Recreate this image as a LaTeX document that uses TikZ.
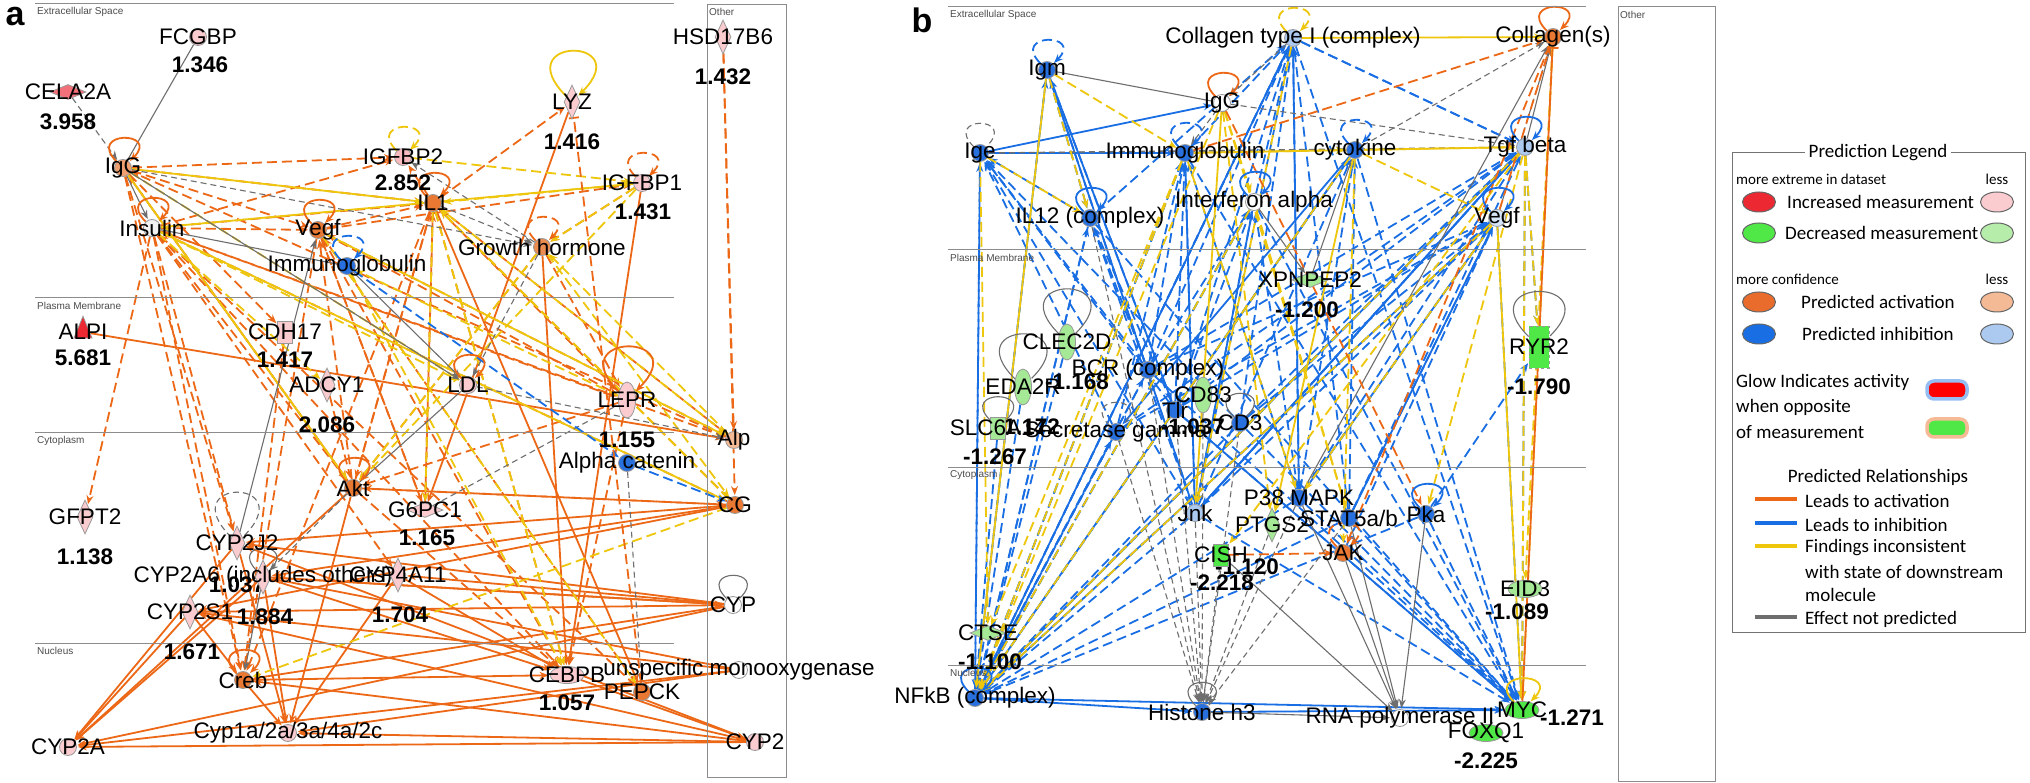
\documentclass[tikz,border=0pt]{standalone}
\usepackage{fontspec}
\setmainfont{Liberation Sans}
\newfontfamily\legendfont{Carlito}
\usetikzlibrary{arrows.meta,shapes.geometric,backgrounds}

\definecolor{actcol}{RGB}{236,104,22}
\definecolor{inhcol}{RGB}{25,110,228}
\definecolor{inccol}{RGB}{238,198,12}
\definecolor{npcol}{RGB}{110,110,110}
\definecolor{upweak}{RGB}{250,204,208}
\definecolor{upmid}{RGB}{242,112,122}
\definecolor{upstrong}{RGB}{236,40,50}
\definecolor{downweak}{RGB}{165,232,150}
\definecolor{downstrong}{RGB}{80,232,70}
\definecolor{actnode}{RGB}{232,120,50}
\definecolor{actweak}{RGB}{244,186,150}
\definecolor{inhnode}{RGB}{40,112,222}
\definecolor{inhweak}{RGB}{172,202,240}
\newcommand{\lblsize}{\fontsize{22.5}{24}\selectfont}
\newcommand{\legsize}{\legendfont\fontsize{19}{21}\selectfont}
\newcommand{\legsmall}{\legendfont\fontsize{15}{17}\selectfont}

\tikzset{
  lbl/.style={font=\lblsize,inner sep=0pt},
  val/.style={font=\lblsize\bfseries,inner sep=0pt},
  region/.style={font=\fontsize{10}{12}\selectfont,text=black!70,anchor=west,inner sep=0pt},
  tag/.style={font=\bfseries\fontsize{34}{36}\selectfont,inner sep=0pt},
  rule/.style={draw=black!45,line width=1pt},
  gnode/.style={draw=black!40,line width=0.8pt,inner sep=0pt,label={[lbl]center:#1}},
  gsym/.style={gnode=#1,circle,minimum size=17pt},
  genz/.style={gnode=#1,diamond,minimum width=16pt,minimum height=34pt},
  gpep/.style={gnode=#1,diamond,minimum width=36pt,minimum height=15pt},
  gtri/.style={gnode=#1,isosceles triangle,shape border rotate=90,minimum width=18pt,minimum height=17pt},
  grec/.style={gnode=#1,rectangle,minimum width=15pt,minimum height=22pt},
  gvel/.style={gnode=#1,ellipse,minimum width=17pt,minimum height=36pt},
  ghel/.style={gnode=#1,ellipse,minimum width=34pt,minimum height=17pt},
  act/.style={draw=actcol,line width=1.8pt,->},
  actd/.style={act,dash pattern=on 10pt off 5pt},
  inh/.style={draw=inhcol,line width=1.8pt,->},
  inhd/.style={inh,dash pattern=on 10pt off 5pt},
  inc/.style={draw=inccol,line width=1.8pt,->},
  incd/.style={inc,dash pattern=on 10pt off 5pt},
  np/.style={draw=npcol,line width=1.1pt,->},
  npd/.style={np,dash pattern=on 6pt off 4pt},
  npl/.style={draw=npcol,line width=1.1pt},
  bigloop/.style={every loop/.style={out=135,in=45,min distance=85pt,looseness=1}},
  leg/.style={font=\legsize,inner sep=0pt},
  legs/.style={font=\legsmall,inner sep=0pt},
  lell/.style={ellipse,draw=black!60,line width=1pt,minimum width=33pt,minimum height=20pt},
  lglow/.style={rectangle,rounded corners=7pt,line width=3.5pt,minimum width=40pt,minimum height=18pt},
  lline/.style={rectangle,inner sep=0pt,minimum width=42pt,minimum height=3.5pt}
}

\begin{document}
\begin{tikzpicture}[x=1pt,y=-1pt,>={Stealth[length=9pt,width=7pt]},shorten >=1pt]
  \tikzset{every loop/.style={out=135,in=45,min distance=44pt,looseness=1}}
  \useasboundingbox (0,0) rectangle (2030,783);

  % ---------- panel a ----------
  \node[tag] (tag-a) at (15,17) {a};
  \draw[rule] (35,4) -- (675,4);
  \draw[rule] (35,298) -- (675,298);
  \draw[rule] (35,433) -- (675,433);
  \draw[rule] (35,643) -- (675,643);
  \draw[rule] (707,5) rectangle (786,777);
  \node[region] (ra1) at (37,12) {Extracellular Space};
  \node[region] (ra2) at (37,306) {Plasma Membrane};
  \node[region] (ra3) at (37,441) {Cytoplasm};
  \node[region] (ra4) at (37,651) {Nucleus};
  \node[region] (ra5) at (709,12) {Other};

  \node[gpep=CELA2A,fill=upmid] (cela) at (68,92) {};
  \node[val] (cela-v) at (68,122) {3.958};
  \node[gsym=FCGBP,fill=upweak] (fcgbp) at (198,37) {};
  \node[val] (fcgbp-v) at (200,65) {1.346};
  \node[gsym=IgG,fill=actnode!70] (igg) at (123,168) {};
  \node[gsym=Insulin,fill=black!5] (ins) at (152,228) {};
  \node[gsym=Vegf,fill=actnode] (vegf) at (318,230) {};
  \node[gsym=Immunoglobulin,fill=inhnode] (imm) at (347,266) {};
  \node[gsym=IL1,fill=actnode] (il) at (433,203) {};
  \node[gsym=IGFBP2,fill=upweak!80!upmid] (igfbpb) at (403,157) {};
  \node[val] (igfbpb-v) at (403,183) {2.852};
  \node[genz=LYZ,fill=upweak] (lyz) at (572,102) {};
  \node[val] (lyz-v) at (572,142) {1.416};
  \node[gsym=IGFBP1,fill=upweak] (igfbpa) at (642,183) {};
  \node[val] (igfbpa-v) at (643,212) {1.431};
  \node[gsym=Growth hormone,fill=actnode!85] (gh) at (542,247) {};
  \node[genz=HSD17B6,fill=upweak] (hsd) at (723,37) {};
  \node[val] (hsd-v) at (723,77) {1.432};
  \node[gtri=ALPI,fill=upstrong] (alpi) at (83,332) {};
  \node[val] (alpi-v) at (83,358) {5.681};
  \node[grec=CDH17,fill=upweak] (cdh) at (285,332) {};
  \node[val] (cdh-v) at (285,360) {1.417};
  \node[genz=ADCY1,fill=upweak] (adcy) at (327,385) {};
  \node[val] (adcy-v) at (327,425) {2.086};
  \node[gsym=LDL,fill=upweak] (ldl) at (468,385) {};
  \node[gvel=LEPR,fill=upweak] (lepr) at (627,400) {};
  \node[val] (lepr-v) at (627,440) {1.155};
  \node[gsym=Alpha catenin,fill=inhnode] (actn) at (627,463) {};
  \node[gsym=Alp,fill=actweak] (alp) at (734,440) {};
  \node[gsym=CG,fill=actnode] (cg) at (735,505) {};
  \node[genz=GFPT2,fill=upweak] (gfpt) at (85,517) {};
  \node[val] (gfpt-v) at (85,557) {1.138};
  \node[gsym=Akt,fill=actnode] (akt) at (353,488) {};
  \node[gpep=G6PC1,fill=upweak] (gpc) at (425,510) {};
  \node[val] (gpc-v) at (427,538) {1.165};
  \node[genz=CYP2J2,fill=upweak] (cypj) at (237,543) {};
  \node[val] (cypj-v) at (237,585) {1.037};
  \node[genz={CYP2A6 (includes others)},fill=upweak] (cypa6) at (263,577) {};
  \node[val] (cypa6-v) at (265,617) {1.884};
  \node[genz=CYP2S1,fill=upweak] (cyps) at (190,612) {};
  \node[val] (cyps-v) at (192,652) {1.671};
  \node[genz=CYP4A11,fill=upweak] (cyp4) at (398,575) {};
  \node[val] (cyp4-v) at (400,615) {1.704};
  \node[gsym=CYP,fill=white] (cyp) at (733,605) {};
  \node[gsym=Creb,fill=actnode] (creb) at (243,680) {};
  \node[ghel=CEBPB,fill=upweak] (cebpb) at (567,675) {};
  \node[val] (cebpb-v) at (567,703) {1.057};
  \node[gsym=unspecific monooxygenase,fill=white] (umo) at (739,670) {};
  \node[gsym=PEPCK,fill=actnode] (pepck) at (642,692) {};
  \node[gsym=CYP2,fill=upweak] (cypt) at (755,742) {};
  \node[gsym=CYP2A,fill=upweak] (cypta) at (68,747) {};
  \node[gsym=Cyp1a/2a/3a/4a/2c,fill=upweak] (cypm) at (288,733) {};

  % ---------- panel b ----------
  \node[tag] (tag-b) at (922,20) {b};
  \draw[rule] (948,7) -- (1587,7);
  \draw[rule] (948,250) -- (1587,250);
  \draw[rule] (948,467) -- (1587,467);
  \draw[rule] (948,665) -- (1587,665);
  \draw[rule] (1618,7) rectangle (1715,781);
  \node[region] (rb1) at (950,15) {Extracellular Space};
  \node[region] (rb2) at (950,258) {Plasma Membrane};
  \node[region] (rb3) at (950,475) {Cytoplasm};
  \node[region] (rb4) at (950,673) {Nucleus};
  \node[region] (rb5) at (1620,15) {Other};

  \node[gsym={Collagen type I (complex)},fill=inhweak] (colla) at (1293,38) {};
  \node[gsym=Collagen(s),fill=actnode] (colls) at (1553,37) {};
  \node[gsym=Igm,fill=inhnode] (igm) at (1047,70) {};
  \node[gsym=IgG,fill=white] (iggb) at (1222,103) {};
  \node[gsym=Ige,fill=inhnode] (ige) at (980,153) {};
  \node[gsym=Immunoglobulin,fill=inhnode] (immb) at (1185,153) {};
  \node[gsym=cytokine,fill=inhnode] (cyto) at (1355,150) {};
  \node[gsym=Tgf beta,fill=inhweak] (tgf) at (1525,147) {};
  \node[gsym={IL12 (complex)},fill=inhnode] (ilt) at (1090,218) {};
  \node[gsym=Interferon alpha,fill=white] (ifn) at (1254,202) {};
  \node[gsym=Vegf,fill=inhweak!50] (vegfb) at (1497,218) {};
  \node[gpep=XPNPEP2,fill=downweak] (xpn) at (1310,280) {};
  \node[val] (xpn-v) at (1307,310) {-1.200};
  \node[gvel=CLEC2D,fill=downweak] (clec) at (1067,342) {};
  \node[val] (clec-v) at (1077,382) {-1.168};
  \node[gvel=EDA2R,fill=downweak] (eda) at (1023,387) {};
  \node[val] (eda-v) at (1028,427) {-1.172};
  \node[grec=SLC6A14,fill=downweak] (slc) at (998,428) {};
  \node[val] (slc-v) at (995,457) {-1.267};
  \node[gsym={BCR (complex)},fill=inhnode] (bcr) at (1148,370) {};
  \node[gvel=CD83,fill=downweak] (cde) at (1203,395) {};
  \node[val] (cde-v) at (1193,427) {-1.037};
  \node[gsym=Tlr,fill=inhnode] (tlr) at (1175,410) {};
  \node[gsym=CD3,fill=inhnode] (cdt) at (1240,423) {};
  \node[gsym=Secretase gamma,fill=inhnode] (sec) at (1116,432) {};
  \node[grec=RYR2,fill=downstrong,minimum width=20pt,minimum height=42pt,dashed] (ryr) at (1539,347) {};
  \node[val] (ryr-v) at (1539,387) {-1.790};
  \node[gsym=Jnk,fill=inhweak] (jnk) at (1195,513) {};
  \node[gsym=P38 MAPK,fill=inhnode] (ptk) at (1299,498) {};
  \node[genz=PTGS2,fill=downweak] (ptgs) at (1272,525) {};
  \node[val] (ptgs-v) at (1247,567) {-1.120};
  \node[gsym=STAT5a/b,fill=inhnode] (stat) at (1349,518) {};
  \node[gsym=Pka,fill=inhnode] (pka) at (1426,514) {};
  \node[grec=CISH,fill=downstrong] (cish) at (1221,555) {};
  \node[val] (cish-v) at (1222,583) {-2.218};
  \node[gsym=JAK,fill=actnode] (jak) at (1343,553) {};
  \node[ghel=EID3,fill=downweak] (eid) at (1525,589) {};
  \node[val] (eid-v) at (1517,612) {-1.089};
  \node[gpep=CTSE,fill=downweak] (ctse) at (988,633) {};
  \node[val] (ctse-v) at (990,662) {-1.100};
  \node[gsym={NFkB (complex)},fill=inhnode] (nfkb) at (975,698) {};
  \node[gsym=Histone h3,fill=inhnode] (hist) at (1202,712) {};
  \node[gsym=RNA polymerase II,fill=white] (rna) at (1400,718) {};
  \node[ghel=MYC,fill=downstrong] (myc) at (1522,710) {};
  \node[val] (myc-v) at (1572,718) {-1.271};
  \node[ghel=FOXQ1,fill=downstrong] (foxq) at (1486,733) {};
  \node[val] (foxq-v) at (1486,761) {-2.225};

  % ---------- legend ----------
  \draw[draw=black!55,line width=1pt] (1732,153) rectangle (2025,632);
  \node[leg,fill=white,inner xsep=4pt] (leg-title) at (1878,153) {Prediction Legend};
  \node[legs,anchor=west] (leg-ext) at (1736,179) {more extreme in dataset};
  \node[legs] (leg-less1) at (1997,179) {less};
  \node[lell,fill=upstrong] (leg-up) at (1759,202) {};
  \node[leg,anchor=west] (leg-upt) at (1787,202) {Increased measurement};
  \node[lell,fill=upweak] (leg-upw) at (1997,202) {};
  \node[lell,fill=downstrong] (leg-dn) at (1759,233) {};
  \node[leg,anchor=west] (leg-dnt) at (1785,233) {Decreased measurement};
  \node[lell,fill=downweak!80] (leg-dnw) at (1997,233) {};
  \node[legs,anchor=west] (leg-conf) at (1736,279) {more confidence};
  \node[legs] (leg-less2) at (1997,279) {less};
  \node[lell,fill=actnode!90!red] (leg-act) at (1759,302) {};
  \node[leg,anchor=west] (leg-actt) at (1801,302) {Predicted activation};
  \node[lell,fill=actweak] (leg-actw) at (1997,302) {};
  \node[lell,fill=inhcol] (leg-inh) at (1759,334) {};
  \node[leg,anchor=west] (leg-inht) at (1802,334) {Predicted inhibition};
  \node[lell,fill=inhweak] (leg-inhw) at (1997,334) {};
  \node[leg,anchor=west] (leg-glow1) at (1736,382) {Glow Indicates activity};
  \node[leg,anchor=west] (leg-glow2) at (1736,407) {when opposite};
  \node[leg,anchor=west] (leg-glow3) at (1736,432) {of measurement};
  \node[lglow,draw=inhcol!45,fill=red] (leg-gr) at (1947,390) {};
  \node[lglow,draw=actcol!45,fill=downstrong] (leg-gg) at (1947,428) {};
  \node[leg] (leg-rel) at (1878,477) {Predicted Relationships};
  \node[lline,fill=actcol] (leg-la) at (1776,499) {};
  \node[leg,anchor=west] (leg-lat) at (1805,501) {Leads to activation};
  \node[lline,fill=inhcol] (leg-li) at (1776,523) {};
  \node[leg,anchor=west] (leg-lit) at (1805,525) {Leads to inhibition};
  \node[lline,fill=inccol] (leg-lf) at (1776,546) {};
  \node[leg,anchor=west] (leg-lft1) at (1805,548) {Findings inconsistent};
  \node[leg,anchor=west] (leg-lft2) at (1805,572) {with state of downstream};
  \node[leg,anchor=west] (leg-lft3) at (1805,595) {molecule};
  \node[lline,fill=npcol] (leg-ln) at (1776,617) {};
  \node[leg,anchor=west] (leg-lnt) at (1805,619) {Effect not predicted};

  % ---------- relationships ----------
  \begin{scope}[on background layer]
    \fill[white] (0,0) rectangle (2030,783);
    % panel a
    \foreach \s/\t in {igg/vegf,igg/il,igg/igfbpb,igg/creb,igg/akt,igg/cypj,igg/cdh,
        ins/gfpt,ins/il,ins/vegf,ins/igfbpb,ins/creb,ins/cebpb,ins/akt,ins/lepr,ins/cypj,ins/cyp4,
        vegf/il,vegf/igfbpa,vegf/cebpb,vegf/creb,vegf/lepr,vegf/gpc,
        il/lyz,il/igfbpb,il/cebpb,il/akt,il/lepr,il/creb,il/alp,il/gpc,
        gh/akt,gh/lepr,akt/vegf,akt/il,akt/cebpb,akt/cg,akt/igg,lepr/cebpb,lepr/akt,
        alp/ins,alp/vegf,alp/igg,hsd/alp,hsd/cg,cg/ins,cg/akt,cg/il,
        igfbpa/gh,gpc/il,gpc/vegf,pepck/ins,pepck/vegf,adcy/akt,cdh/creb}
      \draw[actd] (\s) -- (\t);
    \foreach \s/\t in {alpi/alp,lyz/gpc,igfbpa/cebpb,gh/cebpb,il/pepck,
        cyps/cypta,cypj/cypta,cypa6/cypta,cyps/creb,creb/cypm,cypa6/cypm,cypj/cypm,cyp4/cypm,
        creb/cebpb,cyp/cypta,cyp/cypj,cyp/cypa6,cyp/cyp4,cyp/creb,
        cypt/cypta,cypt/cypm,cypt/cyps,cypt/cypj,cypt/creb,cg/cypj,cg/cypa6,cg/cyps,
        umo/cypm,umo/cypa6,umo/cyps,umo/cypta,cyp4/cebpb,cypa6/cebpb,cebpb/cypt,
        cyps/cyp,cypa6/cyp,akt/cypm,akt/cypta}
      \draw[act] (\s) -- (\t);
    \foreach \s/\t in {igfbpb/igfbpa,igfbpa/il,igfbpa/gh,igfbpa/akt,ins/ldl,gh/akt,vegf/pepck,
        il/gpc,cg/creb,cg/il,alp/il,alp/gh,lepr/imm,imm/cebpb,igg/ldl,il/cebpb,gh/cg,ins/adcy}
      \draw[incd] (\s) -- (\t);
    \foreach \s/\t in {igg/il,ins/igfbpa,vegf/alp,igg/akt,ins/cg}
      \draw[inc] (\s) -- (\t);
    \foreach \s/\t in {cela/igg,igg/gh,gh/ldl,gh/igfbpb,il/gh,ldl/alp,actn/pepck,akt/cypa6}
      \draw[npd] (\s) -- (\t);
    \foreach \s/\t in {igg/ins,imm/ldl,igg/ldl,cypa6/creb,cypj/vegf}
      \draw[np] (\s) -- (\t);
    \draw[npl] (fcgbp) -- (igg);
    \draw[npl] (ins) -- (imm);
    \draw[npl] (akt) -- (ldl);
    \draw[npl,dash pattern=on 6pt off 4pt] (gpc) -- (lepr);
    \draw[inhd] (imm) -- (actn);
    \draw[inhd] (actn) -- (cg);
    \draw[actd,-{Bar[width=10pt]}] (pepck) -- (lyz);
    % self loops a
    \foreach \n in {igg,ins,vegf,il,ldl,akt,creb}
      \path (\n) edge[act,loop] (\n);
    \path (igfbpb) edge[incd,loop] (igfbpb);
    \path (igfbpa) edge[actd,loop] (igfbpa);
    \path (gh) edge[actd,loop] (gh);
    \path (imm) edge[inhd,loop] (imm);
    \path (lyz) edge[inc,bigloop,loop] (lyz);
    \path (lepr) edge[act,bigloop,loop] (lepr);
    \path (cypj) edge[npd,-,bigloop,loop] (cypj);
    \path (cypa6) edge[npl,loop] (cypa6);
    \path (cyp) edge[npl,loop] (cyp);

    % panel b
    \foreach \s in {igm,ige,ilt,immb,ifn,cyto,tgf,vegfb,bcr,tlr,cdt,sec,jnk,ptk,stat,pka,colla,eda,slc,clec}
      \draw[inhd] (\s) -- (nfkb);
    \foreach \s in {tgf,vegfb,cyto,ifn,jnk,ptk,stat,pka,ilt,immb,tlr,bcr,colla,cdt}
      \draw[inhd] (\s) -- (myc);
    \foreach \s in {ilt,immb,jnk,tlr,bcr,ptk,cdt,ifn,nfkb,stat}
      \draw[inhd] (\s) -- (colla);
    \foreach \s in {jnk,ptk,stat,nfkb,tlr,bcr,colla,cdt,sec}
      \draw[inhd] (\s) -- (tgf);
    \foreach \s in {jnk,ptk,stat,nfkb,tlr,bcr,jak,sec,cdt}
      \draw[inhd] (\s) -- (vegfb);
    \foreach \s/\t in {bcr/ilt,tlr/ilt,jnk/ilt,nfkb/ilt,igm/ilt,bcr/immb,tlr/immb,jnk/immb,ptk/immb,
        nfkb/immb,sec/immb,nfkb/igm,jnk/igm,tlr/igm,nfkb/ige,jnk/ige,bcr/ige,tlr/ige,ilt/ige,
        sec/ige,cdt/ige,jnk/cyto,ptk/cyto,nfkb/cyto,stat/cyto,tlr/cyto,jnk/ifn,tlr/ifn,nfkb/ifn,
        bcr/ifn,ptk/ifn,pka/ryr,tgf/ryr,colla/tgf,nfkb/sec,nfkb/bcr}
      \draw[inhd] (\s) -- (\t);
    \foreach \s/\t in {ige/iggb,ige/immb,igm/jnk,igm/tlr,immb/jnk,ifn/jnk,nfkb/myc,hist/myc,
        colla/nfkb,tgf/nfkb,tlr/myc,jnk/tgf,stat/vegfb,ptk/vegfb,tgf/jnk,colla/ptk,cyto/sec,nfkb/hist}
      \draw[inh] (\s) -- (\t);
    \foreach \s in {jnk,ptk,ptgs,stat,tlr,cdt,sec,bcr,cde,cish,ilt}
      \draw[npd] (\s) -- (hist);
    \foreach \s/\t in {ige/cyto,colla/iggb,iggb/tgf,cyto/colls,vegfb/colls,iggb/immb,ige/tgf}
      \draw[npd] (\s) -- (\t);
    \foreach \s/\t in {jak/rna,pka/rna,cish/rna,stat/rna,ptk/rna,hist/rna,tgf/colls,ifn/xpn,ptk/colls}
      \draw[np] (\s) -- (\t);
    \draw[npl] (igm) -- (iggb);
    \draw[npl] (xpn) -- (cyto);
    \foreach \s/\t in {colla/colls,immb/cyto,cyto/tgf,vegfb/myc,cyto/ptgs,iggb/jnk,igm/nfkb}
      \draw[inc] (\s) -- (\t);
    \foreach \s/\t in {igm/immb,igm/ilt,ige/ilt,immb/tgf,cyto/vegfb,iggb/ifn,iggb/nfkb,immb/nfkb,
        ifn/nfkb,cyto/nfkb,tgf/nfkb,tgf/myc,tgf/ryr,colls/myc,iggb/stat,immb/ptk,ifn/stat,
        vegfb/nfkb,colla/jnk,tgf/cish,vegfb/ptk,immb/ctse,ige/ctse,colls/eid,iggb/ptgs,cyto/jak,tgf/pka}
      \draw[incd] (\s) -- (\t);
    \foreach \s/\t in {immb/colls,iggb/pka,colls/jak,cish/jak,vegfb/colls}
      \draw[actd] (\s) -- (\t);
    \draw[act,-{Bar[width=12pt]}] (myc) -- (colls);
    % self loops b
    \path (colla) edge[incd,loop] (colla);
    \path (colls) edge[act,loop] (colls);
    \path (iggb) edge[act,loop] (iggb);
    \path (ige) edge[npd,-,loop] (ige);
    \foreach \n in {igm,immb,cyto}
      \path (\n) edge[inhd,loop] (\n);
    \foreach \n in {tgf,ilt,ifn,vegfb,pka,nfkb}
      \path (\n) edge[inh,loop] (\n);
    \path (jak) edge[actd,loop] (jak);
    \path (sec) edge[npd,-,loop] (sec);
    \path (cdt) edge[npl,loop] (cdt);
    \path (hist) edge[npl,loop] (hist);
    \path (slc) edge[npl,loop] (slc);
    \path (myc) edge[inc,loop] (myc);
    \foreach \n in {clec,eda,ryr}
      \path (\n) edge[npl,bigloop,loop] (\n);
  \end{scope}
\end{tikzpicture}
\end{document}
